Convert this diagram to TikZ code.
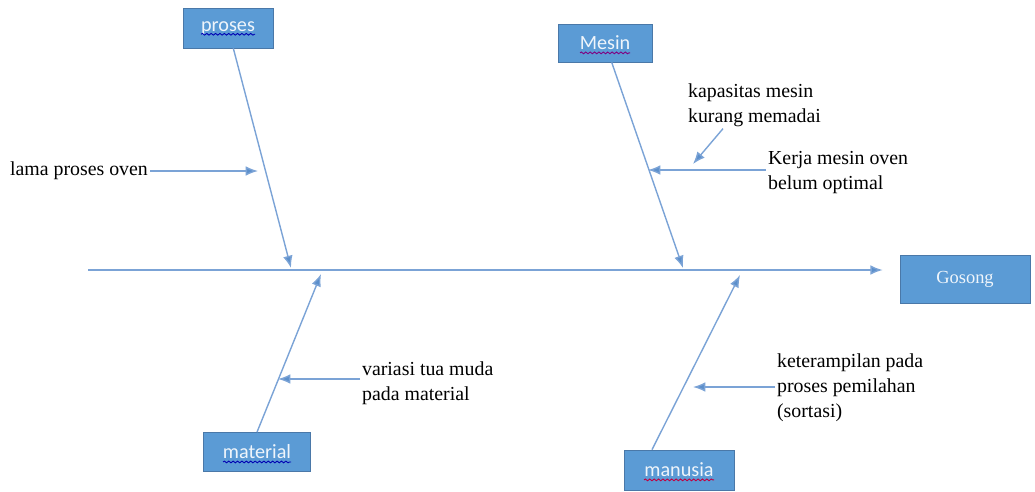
\documentclass[tikz,border=0pt]{standalone}
\usepackage{fontspec}
\setmainfont{Liberation Serif}
\newfontfamily\boxfont{Carlito}
\usetikzlibrary{arrows.meta, calc, decorations.pathmorphing}

\definecolor{boneblue}{HTML}{7BA3D6}
\definecolor{tipblue}{HTML}{5B8FCB}
\definecolor{boxblue}{HTML}{5B9BD5}
\definecolor{boxedge}{HTML}{4A78A8}

\begin{document}
\begin{tikzpicture}[
    x=0.02cm, y=-0.02cm,
    cause/.style={draw=boxedge, fill=boxblue, text=white!90!boxblue, inner sep=0pt,
      font=\boxfont\fontsize{11.5}{13}\selectfont},
    effect/.style={cause, font=\fontsize{10.5}{13}\selectfont},
    bone/.style={-{Latex[length=7pt, width=5.5pt, fill=tipblue]}, draw=boneblue, line width=0.8pt},
    lbl/.style={font=\fontsize{11.3}{14.2}\selectfont, align=left, inner sep=1pt},
    squig/.style={draw=#1, line width=0.5pt, decorate,
      decoration={snake, amplitude=0.5pt, segment length=2.5pt}}
  ]
  \useasboundingbox (0,0) rectangle (1035,491);

  % Boxes
  \node[cause, minimum width=1.8cm, minimum height=0.8cm] (proses) at (228,28) {proses};
  \node[cause, minimum width=1.88cm, minimum height=0.76cm] (mesin) at (605,43) {Mesin};
  \node[cause, minimum width=2.14cm, minimum height=0.78cm] (material) at (257,452) {material};
  \node[cause, minimum width=2.2cm, minimum height=0.8cm] (manusia) at (679,470) {manusia};
  \node[effect, minimum width=2.6cm, minimum height=0.96cm] (gosong) at (965,279) {Gosong};

  % Spell-check marks
  \draw[squig=blue!70!black] ($(proses.base)+(-27,3)$) -- ++(54,0);
  \draw[squig=violet] ($(mesin.base)+(-25,3)$) -- ++(50,0);
  \draw[squig=blue!70!black] ($(material.base)+(-34,3)$) -- ++(68,0);
  \draw[squig=purple] ($(manusia.base)+(-35,3)$) -- ++(70,0);

  % Labels
  \node[lbl, anchor=east] (lama) at (150,171) {lama proses oven};
  \node[lbl, anchor=west] (kapasitas) at (686,105) {kapasitas mesin\\kurang memadai};
  \node[lbl, anchor=west] (kerja) at (766,173) {Kerja mesin oven\\belum optimal};
  \node[lbl, anchor=west] (variasi) at (360,383) {variasi tua muda\\pada material};
  \node[lbl, anchor=west] (terampil) at (775,388) {keterampilan pada\\proses pemilahan\\(sortasi)};

  % Points on the bones
  \coordinate (tail) at (88,270);
  \coordinate (pProses) at (291,268);
  \coordinate (pMesin) at (683,268);
  \coordinate (pMaterial) at (321,274);
  \coordinate (pManusia) at (740,275);
  \coordinate (pLama) at (258,171);
  \coordinate (pKapasitas) at (693,164);
  \coordinate (pKerja) at (648,170);
  \coordinate (pVariasi) at (278,379);
  \coordinate (pTerampil) at (693,387);

  % Spine
  \draw[bone, shorten >=0.34cm] (tail) -- (tail -| gosong.west);

  % Main bones
  \draw[bone] (proses) -- (pProses);
  \draw[bone] (mesin) -- (pMesin);
  \draw[bone] (material.north) -- (pMaterial);
  \draw[bone] ($(manusia.north)+(-27,0)$) -- (pManusia);

  % Sub causes
  \draw[bone] (lama) -- (pLama);
  \draw[bone] ($(kapasitas.south west)!0.27!(kapasitas.south east)$) -- (pKapasitas);
  \draw[bone] (pKerja -| kerja.west) -- (pKerja);
  \draw[bone] (pVariasi -| variasi.west) -- (pVariasi);
  \draw[bone] (pTerampil -| terampil.west) -- (pTerampil);
\end{tikzpicture}
\end{document}
